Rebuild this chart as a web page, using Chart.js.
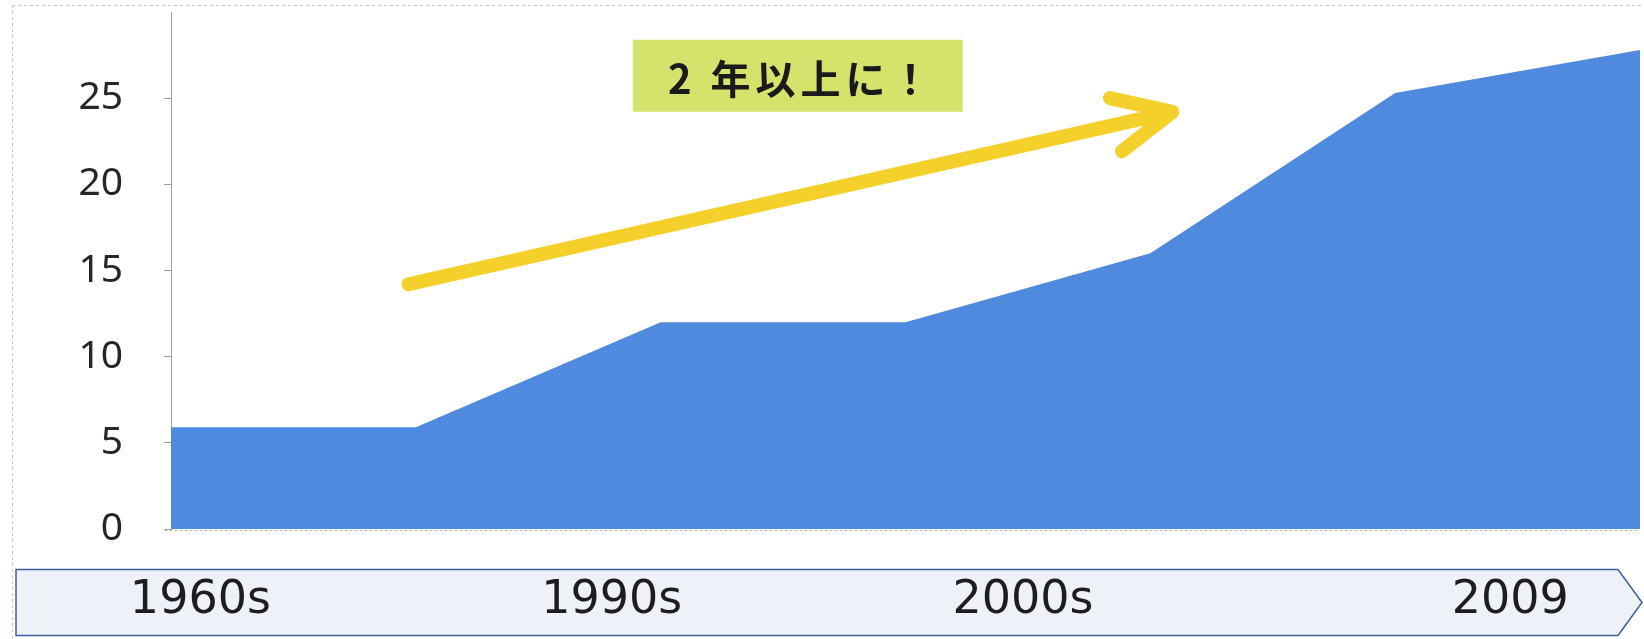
<!DOCTYPE html>
<html>
<head>
<meta charset="utf-8">
<script src="https://cdn.jsdelivr.net/npm/chart.js@4"></script>
<style>
  html, body { margin: 0; padding: 0; background: #fff; }
</style>
</head>
<body>
<canvas id="areaChart" width="1644" height="639"></canvas>
<script>
// evenly spaced sample slots along the timeline and their values
const slots = [0, 1, 2, 3, 4, 5, 6];
const values = [5.9, 5.9, 12, 12, 16, 25.3, 27.8];
const yTicks = [0, 5, 10, 15, 20, 25];

// era captions shown in the ribbon under the plot, placed on the slot axis
const eraLabels = ['1960s', '1990s', '2000s', '2009'];
const eraSlots = [0.12, 1.8, 3.48, 5.47];

const calloutText = '2 年以上に！';

// frame, ribbon, arrow and callout box
const decorPlugin = {
    id: 'decor',
    beforeDraw(chart, args, opts) {
        const ctx = chart.ctx;
        ctx.save();

        // faint dotted frame of the slide
        ctx.strokeStyle = '#c4c4c4';
        ctx.lineWidth = 1;
        ctx.setLineDash([3, 3]);
        ctx.beginPath();
        ctx.moveTo(12, 5.5);
        ctx.lineTo(chart.width, 5.5);
        ctx.moveTo(12.5, 5);
        ctx.lineTo(12.5, chart.height);
        ctx.stroke();

        // ribbon with a chevron end
        const r = opts.ribbon;
        const mid = (r.top + r.bottom) / 2;
        ctx.setLineDash([]);
        ctx.beginPath();
        ctx.moveTo(r.left, r.top);
        ctx.lineTo(r.right - r.tip, r.top);
        ctx.lineTo(r.right, mid);
        ctx.lineTo(r.right - r.tip, r.bottom);
        ctx.lineTo(r.left, r.bottom);
        ctx.closePath();
        ctx.fillStyle = '#eef2f8';
        ctx.fill();
        ctx.strokeStyle = '#3d5f9b';
        ctx.lineWidth = 1.5;
        ctx.stroke();
        ctx.restore();
    },
    afterDatasetsDraw(chart, args, opts) {
        const ctx = chart.ctx;
        const xs = chart.scales.x;
        const ys = chart.scales.y;
        const area = chart.chartArea;
        ctx.save();

        // dotted baseline
        ctx.strokeStyle = '#b0b0b0';
        ctx.lineWidth = 1;
        ctx.setLineDash([2, 3]);
        ctx.beginPath();
        ctx.moveTo(area.left - 6, area.bottom + 1.5);
        ctx.lineTo(area.right, area.bottom + 1.5);
        ctx.stroke();
        ctx.setLineDash([]);

        // yellow arrow
        const a = opts.arrow;
        const x0 = xs.getPixelForValue(a.from.x), y0 = ys.getPixelForValue(a.from.y);
        const x1 = xs.getPixelForValue(a.to.x), y1 = ys.getPixelForValue(a.to.y);
        const ang = Math.atan2(y1 - y0, x1 - x0);
        ctx.strokeStyle = '#f3d02a';
        ctx.lineWidth = 14;
        ctx.lineCap = 'round';
        ctx.lineJoin = 'round';
        ctx.beginPath();
        ctx.moveTo(x0, y0);
        ctx.lineTo(x1, y1);
        ctx.moveTo(x1 - a.head * Math.cos(ang - a.spread), y1 - a.head * Math.sin(ang - a.spread));
        ctx.lineTo(x1, y1);
        ctx.lineTo(x1 - a.head * Math.cos(ang + a.spread), y1 - a.head * Math.sin(ang + a.spread));
        ctx.stroke();

        // callout box
        const b = opts.box;
        const cx = xs.getPixelForValue(b.at.x), cy = ys.getPixelForValue(b.at.y);
        ctx.fillStyle = '#d5e26c';
        ctx.fillRect(cx - b.w / 2, cy - b.h / 2, b.w, b.h);
        ctx.fillStyle = '#1a1a1a';
        ctx.font = 'bold 40px "Noto Sans CJK JP"';
        ctx.letterSpacing = '5px';
        ctx.textAlign = 'center';
        ctx.textBaseline = 'middle';
        ctx.fillText(calloutText, cx + 4, cy + 3);
        ctx.restore();
    }
};

new Chart(document.getElementById('areaChart'), {
    type: 'line',
    data: {
        datasets: [{
            data: slots.map((s, i) => ({ x: s, y: values[i] })),
            fill: 'origin',
            backgroundColor: '#4f8ade',
            borderColor: '#4f8ade',
            borderWidth: 0,
            pointRadius: 0,
            tension: 0
        }]
    },
    options: {
        responsive: false,
        animation: false,
        devicePixelRatio: 1,
        layout: { padding: { top: 12, right: 4, bottom: 11, left: 0 } },
        plugins: {
            legend: { display: false },
            tooltip: { enabled: false },
            decor: {
                ribbon: { left: 16, top: 569.5, bottom: 635.5, right: 1642, tip: 24 },
                arrow: { from: { x: 0.97, y: 14.2 }, to: { x: 4.09, y: 24.2 }, head: 64, spread: 0.44 },
                box: { at: { x: 2.56, y: 26.3 }, w: 330, h: 72 }
            }
        },
        scales: {
            x: { type: 'linear', min: 0, max: 6, display: false },
            era: {
                type: 'linear',
                position: 'bottom',
                min: 0,
                max: 6,
                afterBuildTicks: (axis) => { axis.ticks = eraSlots.map(v => ({ value: v })); },
                // label line plus one padding, not the doubled padding fit() reserves
                afterFit: (axis) => { axis.height = 99; },
                grid: { display: false, drawTicks: false },
                border: { display: false },
                ticks: {
                    autoSkip: false,
                    maxRotation: 0,
                    padding: 44,
                    color: '#1d1d1d',
                    font: { family: 'DejaVu Sans', size: 46 },
                    callback: (v, i) => eraLabels[i]
                }
            },
            y: {
                min: 0,
                max: 30,
                afterBuildTicks: (axis) => { axis.ticks = yTicks.map(v => ({ value: v })); },
                afterFit: (axis) => {
                    axis.width = 171;
                    axis.paddingTop = 0;
                    axis.paddingBottom = 0;
                },
                grid: { drawOnChartArea: false, drawTicks: true, tickLength: 7, color: '#9c9c9c' },
                border: { display: true, color: '#a0a0a0', dash: [3, 2] },
                ticks: {
                    padding: 41,
                    color: '#262626',
                    font: { family: 'Noto Sans', size: 39 }
                }
            }
        }
    },
    plugins: [decorPlugin]
});
</script>
</body>
</html>
